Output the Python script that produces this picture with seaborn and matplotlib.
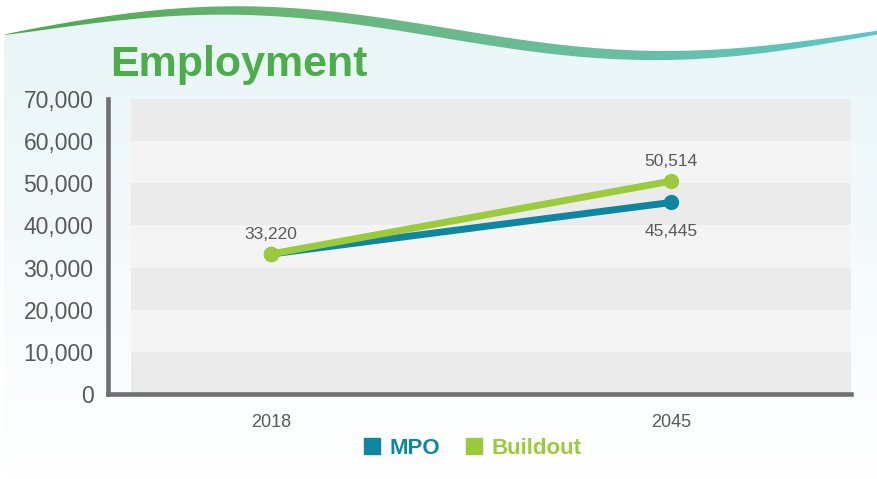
import numpy as np
import pandas as pd
import matplotlib
matplotlib.use("Agg")
import matplotlib.pyplot as plt
import seaborn as sns
from matplotlib.colors import LinearSegmentedColormap
from matplotlib.patches import Polygon
from matplotlib.lines import Line2D

# ---- data ----
years = ["2018", "2045"]
mpo = [33220, 45445]
buildout = [33220, 50514]
series_names = ["MPO", "Buildout"]
y_ticks = [0, 10000, 20000, 30000, 40000, 50000, 60000, 70000]

TEAL = "#0f86a0"
GREEN = "#9bcb3b"
TITLE_GREEN = "#4cad4a"
LABEL_GREY = "#595959"
AXIS_GREY = "#6f6f6f"

sns.set_style("white")
plt.rcParams["font.family"] = ["Liberation Sans", "DejaVu Sans"]

W, H = 878, 479
fig = plt.figure(figsize=(W / 100, H / 100), dpi=100)
fig.patch.set_facecolor("white")

# ---- decorative background: tinted panel under a green/teal wave ----
bg = fig.add_axes([0, 0, 1, 1], zorder=0)
bg.set_xlim(0, W)
bg.set_ylim(H, 0)
bg.axis("off")

xs = np.linspace(4, W, 500)
center = 33 - 22.5 * np.cos(2 * np.pi * (xs - 230) / 860)
thick = 10.5 * np.sin(np.pi * (xs - 4) / ((W - 4) * 1.06)) ** 0.6
upper = center - thick / 2
lower = center + thick / 2

panel_verts = np.vstack([np.column_stack([xs, lower]), [[W, H], [4, H]]])
panel = Polygon(panel_verts, closed=True, transform=bg.transData)
tint = LinearSegmentedColormap.from_list("tint", ["#e8f5f8", "#f4fafc", "#ffffff"])
vgrad = np.linspace(0, 1, 256)[:, None]
im = bg.imshow(vgrad, extent=[0, W, H, 0], aspect="auto", cmap=tint, origin="upper")
im.set_clip_path(panel)

band_verts = np.vstack([np.column_stack([xs, upper]),
                        np.column_stack([xs[::-1], lower[::-1]])])
band = Polygon(band_verts, closed=True, transform=bg.transData)
wave_cmap = LinearSegmentedColormap.from_list("wave", ["#4da64d", "#69b577", "#6bbd9e", "#5cc6c6"])
hgrad = np.linspace(0, 1, 256)[None, :]
im2 = bg.imshow(hgrad, extent=[0, W, H, 0], aspect="auto", cmap=wave_cmap, origin="upper")
im2.set_clip_path(band)

# ---- title ----
fig.text(110 / W, (H - 76) / H, "Employment", fontsize=31, fontweight="bold",
         color=TITLE_GREEN, ha="left", va="baseline")

# ---- main chart ----
ax_l, ax_r, ax_t, ax_b = 108, 851, 99, 394
ax = fig.add_axes([ax_l / W, (H - ax_b) / H, (ax_r - ax_l) / W, (ax_b - ax_t) / H], zorder=2)
ax.patch.set_alpha(0)

band_start = 23 / (ax_r - ax_l)
for i in range(len(y_ticks) - 1):
    ax.axhspan(y_ticks[i], y_ticks[i + 1], xmin=band_start, xmax=1,
               color="#ebebeb" if i % 2 == 0 else "#f4f4f4", lw=0, zorder=0)

df = pd.DataFrame({
    "Year": years * 2,
    "Employment": mpo + buildout,
    "Series": [series_names[0]] * len(years) + [series_names[1]] * len(years),
})
sns.lineplot(data=df, x="Year", y="Employment", hue="Series",
             palette={"MPO": TEAL, "Buildout": GREEN}, marker="o", markersize=11,
             markeredgewidth=0, linewidth=5, sort=False, legend=False, ax=ax, zorder=3)

# value labels
ax.annotate(f"{mpo[0]:,}", (0, mpo[0]), xytext=(0, 14), textcoords="offset points",
            ha="center", va="center", fontsize=12.5, color=LABEL_GREY)
ax.annotate(f"{buildout[1]:,}", (1, buildout[1]), xytext=(0, 14), textcoords="offset points",
            ha="center", va="center", fontsize=12.5, color=LABEL_GREY)
ax.annotate(f"{mpo[1]:,}", (1, mpo[1]), xytext=(0, -21), textcoords="offset points",
            ha="center", va="center", fontsize=12.5, color=LABEL_GREY)

ax.set_xlim(-(271 - ax_l) / 400, (ax_r - 271) / 400)
ax.set_ylim(0, 70000)
ax.set_yticks(y_ticks)
ax.set_yticklabels([f"{v:,}" for v in y_ticks])
ax.set_xlabel("")
ax.set_ylabel("")

for side in ["top", "right"]:
    ax.spines[side].set_visible(False)
for side in ["left", "bottom"]:
    ax.spines[side].set_color(AXIS_GREY)
    ax.spines[side].set_linewidth(3.3)
    ax.spines[side].set_capstyle("projecting")

ax.tick_params(axis="y", direction="in", length=16.5, width=2.3, color=AXIS_GREY,
               pad=10.5, labelsize=16.5, labelcolor=LABEL_GREY)
ax.tick_params(axis="x", length=0, pad=14.5, labelsize=13, labelcolor=LABEL_GREY)

# ---- legend ----
handles = [Line2D([], [], marker="s", ls="", color=c, markersize=11)
           for c in (TEAL, GREEN)]
leg = fig.legend(handles, series_names, loc="center", bbox_to_anchor=(471 / W, (H - 448) / H),
                 ncol=2, frameon=False, prop={"size": 16, "weight": "bold"},
                 handletextpad=0.3, columnspacing=1.0, handlelength=1.0)
for txt, c in zip(leg.get_texts(), (TEAL, GREEN)):
    txt.set_color(c)

fig.savefig("out.png", dpi=100)
